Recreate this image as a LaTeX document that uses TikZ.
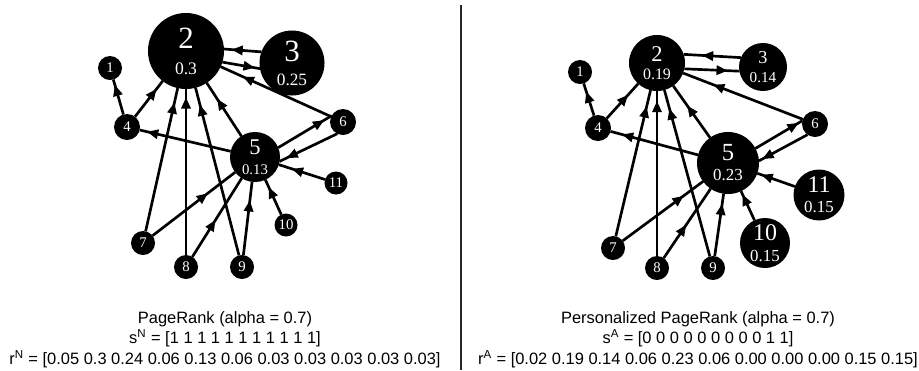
\documentclass[tikz,border=0pt]{standalone}
\usepackage{fontspec}
\setmainfont{Liberation Sans}
\newfontfamily\nodefont{Liberation Serif}
\usepackage{tikz}
\usetikzlibrary{arrows.meta}
\usetikzlibrary{decorations.markings}
\tikzstyle{dot}     = [circle, fill=black, text=white, inner sep=0pt, outer sep=0pt, minimum size=0.6cm, font=\nodefont\fontsize{10.5}{12}\selectfont]
\tikzstyle{hub}     = [dot, align=center]
\tikzstyle{caption} = [anchor=north, inner sep=0pt, align=center, font=\fontsize{11.7}{14.6}\selectfont]
\tikzset{arc/.style={draw, line width=1.9pt, postaction={decorate},
    decoration={markings, mark=at position #1 with {\arrow{Triangle[length=8pt,width=6.5pt]}}}},
  arc/.default=0.8}

\begin{document}
\begin{tikzpicture}[x=0.025cm, y=-0.025cm]
	\useasboundingbox (0,0) rectangle (919,370);
	% PageRank
	\node [dot] (n1) at (110,68) {1};
	\node [hub, minimum size=1.9cm, font=\nodefont\fontsize{12.5}{18.5}\selectfont] (n2) at (186,51) {{\fontsize{22}{22}\selectfont 2}\\0.3};
	\node [hub, minimum size=1.625cm, font=\nodefont\fontsize{12.3}{17}\selectfont] (n3) at (292,63) {{\fontsize{22}{22}\selectfont 3}\\0.25};
	\node [dot, minimum size=0.65cm] (n4) at (127,127) {4};
	\node [hub, minimum size=1.25cm, font=\nodefont\fontsize{10.5}{14.2}\selectfont] (n5) at (255,157) {{\fontsize{16}{16}\selectfont 5}\\0.13};
	\node [dot, minimum size=0.65cm] (n6) at (343,122) {6};
	\node [dot] (n7) at (143,243) {7};
	\node [dot] (n8) at (186,267) {8};
	\node [dot] (n9) at (242,267) {9};
	\node [dot, minimum size=0.575cm] (n10) at (286,225) {10};
	\node [dot, minimum size=0.575cm] (n11) at (336,183) {11};
	\path [arc=0.85] (n4) -- (n1);
	\path [arc=0.78] (n4) -- (n2);
	\path [arc=0.9] (n7) -- (n2);
	\path [arc=0.95] (n8) -- (n2);
	\path [arc=0.9] (n9) -- (n2);
	\path [arc=0.7] (n5) -- (n2);
	\path [arc=0.8] (n6) -- (n2);
	\path [arc=0.8] (n3.160) -- (n2.3);
	\path [arc=0.86] (n2.-17) -- (n3.-170);
	\path [arc=0.92] (n5) -- (n4);
	\path [arc=0.86] (n5.22) -- (n6.151);
	\path [arc=0.88] (n6.-116) -- (n5.-10);
	\path [arc=0.72] (n11) -- (n5);
	\path [arc=0.79] (n10) -- (n5);
	\path [arc=0.67] (n7) -- (n5);
	\path [arc=0.47] (n8) -- (n5);
	\path [arc=0.75] (n9) -- (n5);
	\node [caption] (capN) at (225,311) {PageRank (alpha = 0.7)\\s\textsuperscript{N} = [1 1 1 1 1 1 1 1 1 1 1]\\r\textsuperscript{N} = [0.05 0.3 0.24 0.06 0.13 0.06 0.03 0.03 0.03 0.03 0.03]};

	\draw [line width=1.5pt, black!85] (461,5) -- (461,370);

	% Personalized PageRank
	\node [dot] (m1) at (580,72) {1};
	\node [hub, minimum size=1.4cm, font=\nodefont\fontsize{11.3}{12.5}\selectfont] (m2) at (657,63) {{\fontsize{16}{16}\selectfont 2}\\0.19};
	\node [hub, minimum size=1.2cm, font=\nodefont\fontsize{10.8}{13}\selectfont] (m3) at (763,67) {{\fontsize{13}{13}\selectfont 3}\\0.14};
	\node [dot, minimum size=0.65cm] (m4) at (598,128) {4};
	\node [hub, minimum size=1.55cm, font=\nodefont\fontsize{12}{14.2}\selectfont] (m5) at (728,163) {{\fontsize{17.5}{17.5}\selectfont 5}\\0.23};
	\node [dot, minimum size=0.65cm] (m6) at (815,124) {6};
	\node [dot] (m7) at (613,248) {7};
	\node [dot] (m8) at (657,268) {8};
	\node [dot] (m9) at (713,268) {9};
	\node [hub, minimum size=1.25cm, font=\nodefont\fontsize{12}{15}\selectfont] (m10) at (765,243) {{\fontsize{17}{17}\selectfont 10}\\0.15};
	\node [hub, minimum size=1.275cm, font=\nodefont\fontsize{12}{14.2}\selectfont] (m11) at (819,195) {{\fontsize{17}{17}\selectfont 11}\\0.15};
	\path [arc=0.75] (m4) -- (m1);
	\path [arc=0.68] (m4) -- (m2);
	\path [arc=0.89] (m7) -- (m2);
	\path [arc=0.94] (m8) -- (m2);
	\path [arc=0.89] (m9) -- (m2);
	\path [arc=0.62] (m5) -- (m2);
	\path [arc=0.75] (m6) -- (m2);
	\path [arc=0.68] (m3.157) -- (m2.18);
	\path [arc=0.79] (m2.-12) -- (m3.-170);
	\path [arc=0.87] (m5) -- (m4);
	\path [arc=0.92] (m5.28) -- (m6.165);
	\path [arc=0.93] (m6.-125) -- (m5.4);
	\path [arc=0.89] (m11) -- (m5);
	\path [arc=0.89] (m10) -- (m5);
	\path [arc=0.76] (m7) -- (m5);
	\path [arc=0.48] (m8) -- (m5);
	\path [arc=0.84] (m9) -- (m5);
	\node [caption] (capA) at (698,311) {Personalized PageRank (alpha = 0.7)\\s\textsuperscript{A} = [0 0 0 0 0 0 0 0 0 1 1]\\r\textsuperscript{A} = [0.02 0.19 0.14 0.06 0.23 0.06 0.00 0.00 0.00 0.15 0.15]};
\end{tikzpicture}
\end{document}
